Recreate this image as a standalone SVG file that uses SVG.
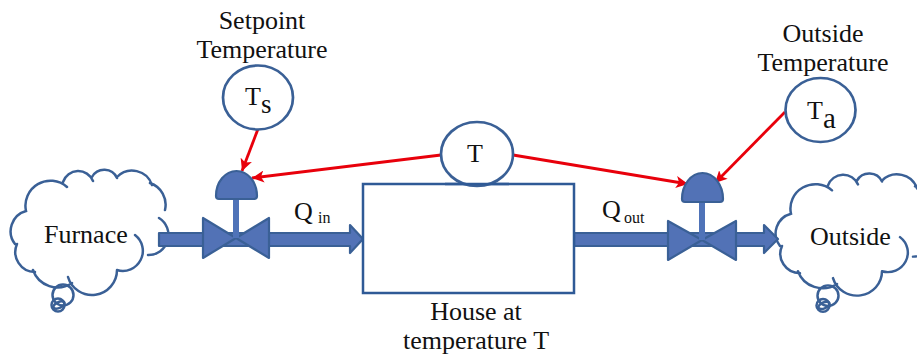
<svg xmlns="http://www.w3.org/2000/svg" width="917" height="356" viewBox="0 0 917 356">
<style>
text{font-family:"Liberation Serif","DejaVu Serif",serif;font-size:26px;fill:#111}
.m{text-anchor:middle}
.sub{font-size:16px}
.line{fill:none;stroke:#3a6096;stroke-width:2.5;stroke-linecap:round}
.node{fill:#fff;stroke:#3a6096;stroke-width:2.7}
.blue{fill:#5272b6;stroke:#3a6096;stroke-width:2.2;stroke-linejoin:round}
.sig{fill:none;stroke:#e8000b;stroke-width:2.8;marker-end:url(#a)}
</style>
<defs>
<marker id="a" markerUnits="userSpaceOnUse" markerWidth="13" markerHeight="12" refX="12" refY="6" orient="auto"><path d="M0,0L12,6L0,12L3,6Z" fill="#e8000b"/></marker>
<g id="cloud">
<path class="line" d="M15,244A21,21 0 0 1 26,211A25,25 0 0 1 67,187M63,182A16,16 0 0 1 93,181M92,177A14,14 0 0 1 117,178M117,177A21,21 0 0 1 152,185M150,183A23,23 0 0 1 165,210M159,218A20,20 0 0 1 148,255M135,235A20,20 0 0 1 117,270M117,270A25,25 0 0 1 68,277M72,283A26,26 0 0 1 33,270M35,272A20,20 0 0 1 17,244"/>
<ellipse class="line" cx="63" cy="295" rx="10.500" ry="10.500"/>
<circle class="line" cx="58" cy="305" r="6.500"/>
<ellipse class="line" cx="59" cy="305" rx="6" ry="3" transform="rotate(-25 59 305)"/>
</g>
</defs>
<g id="furnace">
<use href="#cloud"/>
<text x="44" y="243">Furnace</text>
</g>
<g id="outside">
<use href="#cloud" transform="translate(765,8) scale(1,.975)"/>
<text x="810" y="245">Outside</text>
</g>
<g id="connectors">
<path class="blue" d="M159,233H350V225L363,239L350,253V246H159Z"/>
<path class="blue" d="M574,233H764V225L778,239L764,253V246H574Z"/>
<line class="sig" x1="258" y1="129" x2="242" y2="171"/>
<line class="sig" x1="441" y1="155" x2="252" y2="178"/>
<line class="sig" x1="513" y1="155" x2="688" y2="184"/>
<line class="sig" x1="785" y1="112" x2="715" y2="183"/>
</g>
<g id="house">
<rect x="363" y="184" width="211" height="109" fill="#fff" stroke="#2f5a96" stroke-width="2.500"/>
<text class="m" x="476" y="320">House at</text>
<text class="m" x="476" y="349">temperature T</text>
</g>
<g id="valve-in">
<path class="blue" d="M203,218V258L236,238ZM269,218V258L236,238Z"/>
<rect x="233" y="199" width="6" height="39" fill="#4f73b8"/>
<path class="blue" d="M216,196A20.500,25 0 0 1 257,196Q257,199 254,199H219Q216,199 216,196Z"/>
</g>
<g id="valve-out">
<path class="blue" d="M668,221V260L702,240ZM736,221V260L702,240Z"/>
<rect x="699" y="201" width="6" height="39" fill="#4f73b8"/>
<path class="blue" d="M682,199A20.500,26 0 0 1 723,199Q723,202 720,202H685Q682,202 682,199Z"/>
</g>
<g id="setpoint">
<text class="m" x="262" y="29">Setpoint</text>
<text class="m" x="262" y="58">Temperature</text>
<ellipse class="node" cx="258" cy="97.500" rx="35" ry="32"/>
<text x="245" y="105">T</text>
<text x="261" y="113" style="font-size:27px">s</text>
</g>
<g id="measured">
<ellipse class="node" cx="477" cy="154" rx="36" ry="32"/>
<text class="m" x="475" y="162">T</text>
<line x1="445" y1="184" x2="509" y2="184" stroke="#2f5a96" stroke-width="2.500"/>
</g>
<g id="ambient">
<text class="m" x="823" y="42">Outside</text>
<text class="m" x="823" y="71">Temperature</text>
<ellipse class="node" cx="820.500" cy="110" rx="35" ry="32"/>
<text x="807" y="119">T</text>
<text x="823" y="128" style="font-size:29px">a</text>
</g>
<g id="labels">
<text x="294" y="220">Q</text>
<text class="sub" x="318" y="223">in</text>
<text x="602" y="218">Q</text>
<text class="sub" x="624" y="223">out</text>
</g>
</svg>
